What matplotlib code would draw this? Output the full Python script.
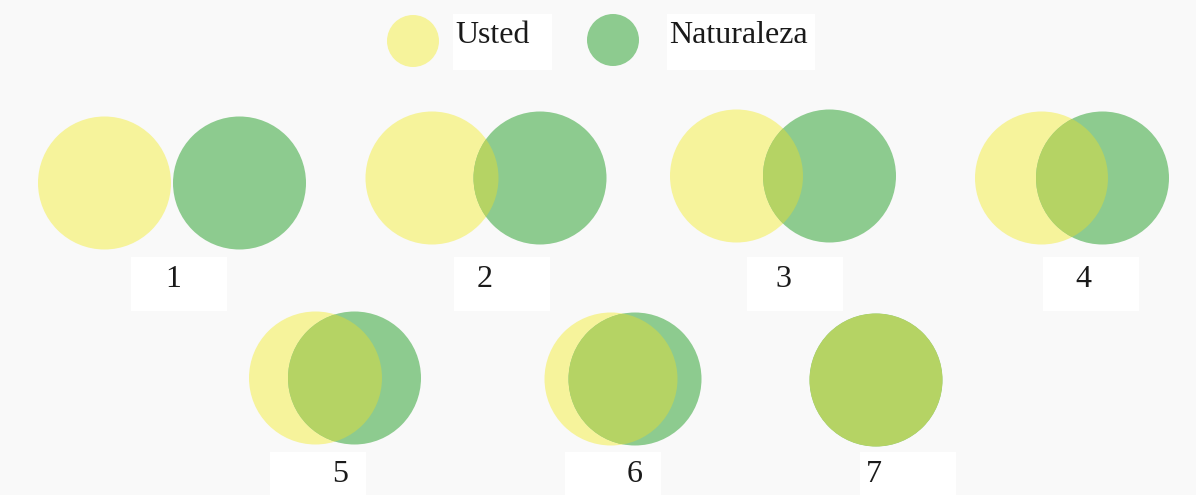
import matplotlib.pyplot as plt
from matplotlib.patches import Circle, Rectangle

# etapas de la relacion usted / naturaleza
stages = ['1', '2', '3', '4', '5', '6', '7']
# separacion entre los centros de los dos circulos (px)
distance = [135, 108, 93, 61, 39, 24, 0]
legend_labels = ['Usted', 'Naturaleza']

yellow = '#f6f39b'
green = '#8dcb8f'
mix = '#b5d364'
bg = '#f9f9f9'

# posicion de cada etapa en la figura (px)
stage_x = [172, 486, 783, 1072, 335, 623, 876]
stage_y = [183, 178, 176, 178, 378, 379, 380]
label_x = [173, 485, 783, 1083, 340, 635, 874]
box_x = [131, 454, 747, 1043, 270, 565, 860]
R = 66.5

fig = plt.figure(figsize=(11.96, 4.95), dpi=100, facecolor=bg)
ax = fig.add_axes([0, 0, 1, 1])
ax.set_xlim(0, 1196)
ax.set_ylim(495, 0)
ax.set_aspect('equal')
ax.axis('off')
ax.set_facecolor(bg)

font = ['Liberation Serif', 'DejaVu Serif']

for i, s in enumerate(stages):
    cx, cy, d = stage_x[i], stage_y[i], distance[i]
    yc = Circle((cx - d / 2, cy), R, color=yellow, lw=0)
    gc = Circle((cx + d / 2, cy), R, color=green, lw=0)
    ax.add_patch(yc)
    ax.add_patch(gc)
    # zona de interseccion
    mc = Circle((cx + d / 2, cy), R, color=mix, lw=0)
    ax.add_patch(mc)
    mc.set_clip_path(yc)

    row_top = 257 if i < 4 else 452
    ax.add_patch(Rectangle((box_x[i], row_top), 96, 54, color='white', lw=0))
    ax.text(label_x[i], row_top + 30, s, fontsize=23, family=font,
            ha='center', va='baseline', color='#1a1a1a')

# leyenda
leg_circles = [(413, 41, yellow), (613, 40, green)]
leg_boxes = [(453, 99), (667, 148)]
for (lx, ly, c), (bx, bw), lab in zip(leg_circles, leg_boxes, legend_labels):
    ax.add_patch(Circle((lx, ly), 26, color=c, lw=0))
    ax.add_patch(Rectangle((bx, 14), bw, 56, color='white', lw=0))
    ax.text(bx + 2, 43, lab, fontsize=23, family=font,
            ha='left', va='baseline', color='#1a1a1a')

plt.savefig('out.png', dpi=100, facecolor=bg)
